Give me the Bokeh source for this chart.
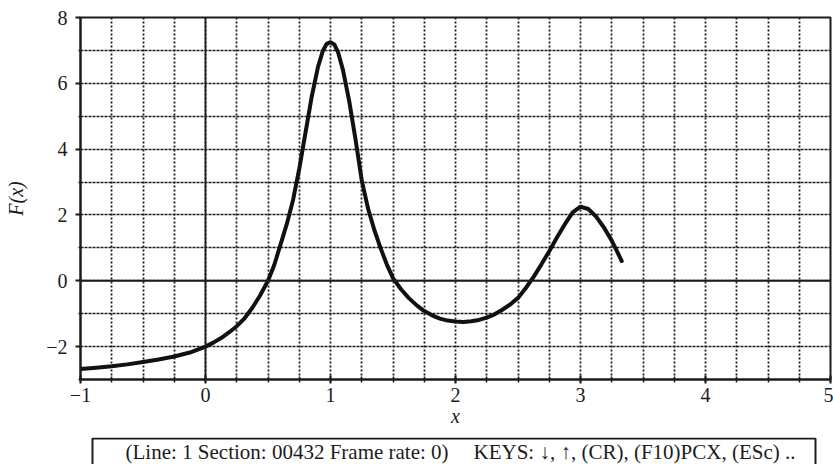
from bokeh.plotting import figure
from bokeh.layouts import column
from bokeh.models import (Range1d, SingleIntervalTicker, FixedTicker, Span,
                          BoxAnnotation, CustomJSTickFormatter)
from bokeh.core.properties import value
from bokeh.embed import file_html
from bokeh.resources import INLINE

# ---- data ----
x_vals = [-1.0, -0.875, -0.75, -0.625, -0.5, -0.375, -0.25, -0.125, 0.0, 0.0625,
          0.125, 0.1875, 0.25, 0.3125, 0.375, 0.4375, 0.5, 0.55, 0.6, 0.65, 0.7,
          0.75, 0.8, 0.85, 0.9, 0.94, 0.97, 1.0, 1.03, 1.06, 1.1, 1.15, 1.2, 1.25,
          1.3, 1.35, 1.4, 1.45, 1.5, 1.5625, 1.625, 1.6875, 1.75, 1.8125, 1.875,
          1.9375, 2.0, 2.0625, 2.125, 2.1875, 2.25, 2.3125, 2.375, 2.4375, 2.5,
          2.5625, 2.625, 2.6875, 2.75, 2.8125, 2.875, 2.9375, 3.0, 3.0625, 3.125,
          3.1875, 3.25, 3.33]
f_vals = [-2.68, -2.64, -2.60, -2.54, -2.47, -2.39, -2.30, -2.18, -2.00, -1.88,
          -1.74, -1.57, -1.38, -1.14, -0.82, -0.44, 0.00, 0.48, 1.10, 1.72, 2.45,
          3.40, 4.50, 5.60, 6.50, 7.00, 7.20, 7.25, 7.18, 6.95, 6.40, 5.45, 4.30,
          3.05, 2.20, 1.55, 1.00, 0.50, 0.08, -0.25, -0.52, -0.74, -0.92, -1.05,
          -1.15, -1.21, -1.24, -1.25, -1.23, -1.19, -1.12, -1.02, -0.88, -0.72,
          -0.52, -0.22, 0.12, 0.50, 0.90, 1.32, 1.72, 2.08, 2.25, 2.18, 1.95,
          1.62, 1.22, 0.60]

x_range = (-1, 5)
y_range = (-3, 8)
x_grid_ticks = [-1 + 0.25 * i for i in range(25)]
y_grid_ticks = list(range(-3, 9))

x_label = "x"
y_label = "F(x)"
status_left = "(Line: 1 Section: 00432 Frame rate: 0)"
status_right = "KEYS: \u2193, \u2191, (CR), (F10)PCX, (ESc) .."

SERIF = "Liberation Serif"
INK = "#1c1c1c"
W = 833
FRAME_L, FRAME_R = 80, 830

p = figure(width=W, height=437, output_backend="svg", toolbar_location=None,
           x_range=Range1d(*x_range), y_range=Range1d(*y_range),
           min_border_left=FRAME_L, min_border_right=W - FRAME_R,
           min_border_top=17, min_border_bottom=58)
p.background_fill_color = "white"
p.border_fill_color = "white"
p.outline_line_color = INK
p.outline_line_width = 2

# grid
p.xgrid.ticker = FixedTicker(ticks=x_grid_ticks)
p.ygrid.ticker = FixedTicker(ticks=y_grid_ticks)
p.xgrid.grid_line_color = INK
p.xgrid.grid_line_width = 1.8
p.xgrid.grid_line_dash = "2 2"
p.ygrid.grid_line_color = INK
p.ygrid.grid_line_width = 1.6
p.ygrid.grid_line_dash = "3 1"

# solid zero lines
p.add_layout(Span(location=0, dimension="height", line_color=INK, line_width=1.8))
p.add_layout(Span(location=0, dimension="width", line_color=INK, line_width=1.8))

# axes
fmt = CustomJSTickFormatter(code="return tick < 0 ? '\u2212' + Math.abs(tick) : '' + tick;")
p.xaxis.ticker = SingleIntervalTicker(interval=1, num_minor_ticks=4)
p.yaxis.ticker = SingleIntervalTicker(interval=2, num_minor_ticks=2)
for ax in (p.xaxis[0], p.yaxis[0]):
    ax.formatter = fmt
    ax.axis_line_color = INK
    ax.axis_line_width = 2
    ax.major_tick_line_color = INK
    ax.minor_tick_line_color = INK
    ax.major_tick_line_width = 2
    ax.minor_tick_line_width = 1.5
    ax.major_label_text_font = SERIF
    ax.major_label_text_font_size = "20px"
    ax.major_label_text_color = INK
    ax.axis_label_text_font = SERIF
    ax.axis_label_text_font_size = "20px"
    ax.axis_label_text_font_style = "italic"
    ax.axis_label_text_color = INK

p.xaxis.major_tick_in = 4
p.xaxis.major_tick_out = 4
p.xaxis.minor_tick_in = 3
p.xaxis.minor_tick_out = 3
p.xaxis.major_label_standoff = 4
p.xaxis.axis_label = x_label
p.xaxis.axis_label_standoff = 0

p.yaxis.major_tick_in = 0
p.yaxis.major_tick_out = 5
p.yaxis.minor_tick_in = 0
p.yaxis.minor_tick_out = 2
p.yaxis.major_label_standoff = 8
p.yaxis.axis_label = y_label
p.yaxis.axis_label_standoff = 16

# curve
p.line(x_vals, f_vals, line_color="#111111", line_width=4, line_join="round",
       line_cap="round")

# status box strip below the chart (its frame is aligned with the chart's
# frame by the column layout, so its x range covers page pixels 80..830)
s = figure(width=W, height=27, output_backend="svg", toolbar_location=None,
           x_range=Range1d(FRAME_L, FRAME_R), y_range=Range1d(464, 437),
           x_axis_location=None, y_axis_location=None,
           min_border_left=FRAME_L, min_border_right=W - FRAME_R,
           min_border_top=0, min_border_bottom=0)
s.grid.visible = False
s.outline_line_color = None
s.background_fill_color = "white"
s.border_fill_color = "white"
s.add_layout(BoxAnnotation(left=92, right=815, top=438, bottom=480,
                           fill_alpha=0, line_color=INK, line_alpha=1,
                           line_width=2))
s.text(x=[125, 473], y=[451, 451], text=[status_left, status_right],
       text_font=value(SERIF), text_font_size="21px", text_color=INK,
       text_baseline="middle", text_align="left")

layout = column(p, s, spacing=0)
open("out.html", "w").write(file_html(layout, INLINE))
